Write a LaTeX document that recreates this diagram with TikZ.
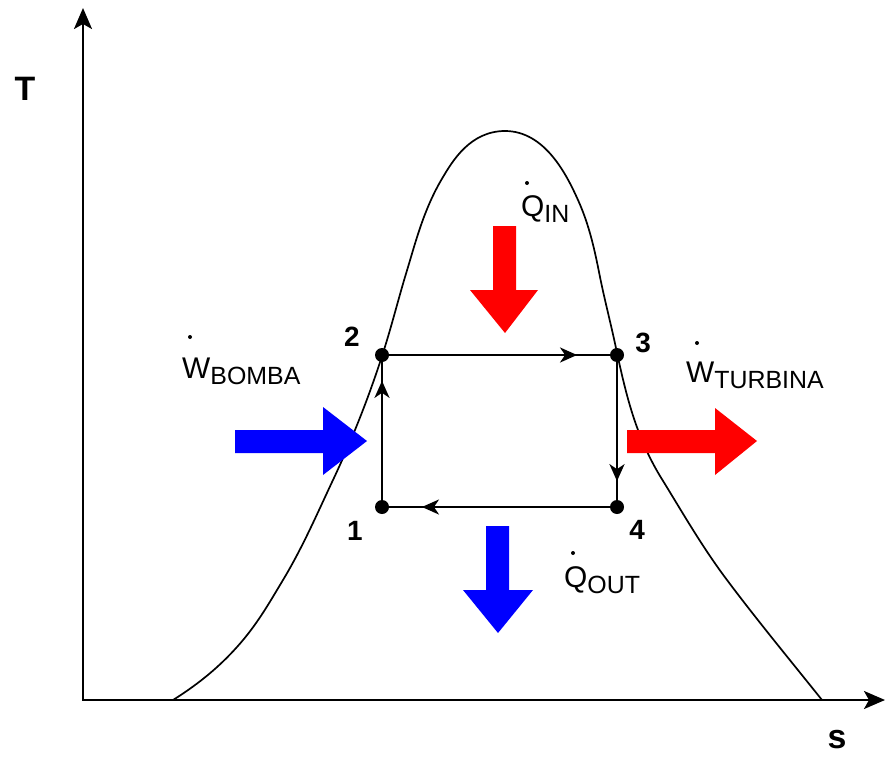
\documentclass[tikz,border=0pt]{standalone}
\usepackage{fontspec}
\setmainfont{Liberation Sans}
\usetikzlibrary{arrows.meta,decorations.markings}
\newcommand\lblsub[2]{{\fontsize{30}{30}\selectfont #1}\raisebox{-6bp}{\fontsize{25}{25}\selectfont #2}}
\begin{document}
\begin{tikzpicture}[x=1bp,y=-1bp,
  axis/.style={line width=2.3bp,{Stealth[length=21bp,width=18bp,inset=5bp]}-{Stealth[length=21bp,width=18bp,inset=5bp]}},
  dome/.style={line width=1.7bp},
  cyc/.style={line width=2.3bp, postaction={decorate}, decoration={markings, mark=at position 0.83 with {\arrow{Stealth[length=17bp,width=15bp,inset=5bp]}}}},
  pt/.style={circle,fill=black,inner sep=0pt,minimum size=14bp},
  num/.style={font=\fontsize{28}{28}\selectfont\bfseries,inner sep=0pt},
  axlbl/.style={font=\fontsize{34}{34}\selectfont\bfseries,inner sep=0pt},
  lbl/.style={inner sep=0pt,anchor=base west},
  dotmark/.style={circle,fill=black,inner sep=0pt,minimum size=4bp},
]
\useasboundingbox (0,0) rectangle (885,758);
\fill[white] (0,0) rectangle (885,758);

% axes
\coordinate (ytop) at (83,8);
\coordinate (O) at (83,700);
\coordinate (xend) at (885,700);
\draw[axis] (ytop) -- (O) -- (xend);
\node[axlbl] (T) at (25,89) {T};
\node[axlbl] (S) at (837,740) {s};

% saturation dome
\draw[dome] (173,700) .. controls (201.3,682.3) and (221.1,664.7) .. (237,647)
  .. controls (257.1,624.7) and (269.6,602.3) .. (283,580)
  .. controls (303,546.7) and (317.3,513.3) .. (333,480)
  .. controls (352.9,437.7) and (369.5,395.3) .. (383,353)
  .. controls (391.1,327.7) and (397.5,302.3) .. (405,277)
  .. controls (415.3,243.7) and (423,210.3) .. (443,177)
  .. controls (452.2,161.7) and (470,131) .. (505,131)
  .. controls (545,131) and (566.75,175) .. (578,200)
  .. controls (589.6,225.7) and (594.9,251.3) .. (600,277)
  .. controls (605.1,302.3) and (611.9,327.7) .. (617,353)
  .. controls (626,394) and (635.4,435) .. (660,476)
  .. controls (681.5,510.7) and (701,545.3) .. (727,580)
  .. controls (757,620) and (790,660) .. (822,700);

% block arrows
\fill[blue] (235,430) -- (323,430) -- (323,407) -- (367,441) -- (323,475) -- (323,453) -- (235,453) -- cycle;
\fill[red] (627,430) -- (715,430) -- (715,408) -- (757,441) -- (715,475) -- (715,453) -- (627,453) -- cycle;
\fill[red] (493,226) -- (516,226) -- (516,290) -- (538,290) -- (505,333) -- (470,290) -- (493,290) -- cycle;
\fill[blue] (486,526) -- (509,526) -- (509,590) -- (533,590) -- (498,633) -- (463,590) -- (486,590) -- cycle;

% cycle
\node[pt] (p1) at (382,507) {};
\node[pt] (p2) at (382,355) {};
\node[pt] (p3) at (617,355) {};
\node[pt] (p4) at (617,507) {};
\draw[cyc] (p2.center) -- (p3.center);
\draw[cyc] (p3.center) -- (p4.center);
\draw[cyc] (p4.center) -- (p1.center);
\draw[cyc] (p1.center) -- (p2.center);

\node[num] (n1) at (355,531) {1};
\node[num] (n2) at (352,337) {2};
\node[num] (n3) at (643,343) {3};
\node[num] (n4) at (637,530) {4};

% labels
\node[lbl] (wb) at (182,378) {\lblsub{W}{BOMBA}};
\node[dotmark] (wbd) at (190,337) {};
\node[lbl] (qi) at (521,216) {\lblsub{Q}{IN}};
\node[dotmark] (qid) at (527,183) {};
\node[lbl] (wt) at (686,382) {\lblsub{W}{TURBINA}};
\node[dotmark] (wtd) at (697,343) {};
\node[lbl] (qo) at (564,587) {\lblsub{Q}{OUT}};
\node[dotmark] (qod) at (573,553) {};
\end{tikzpicture}
\end{document}
